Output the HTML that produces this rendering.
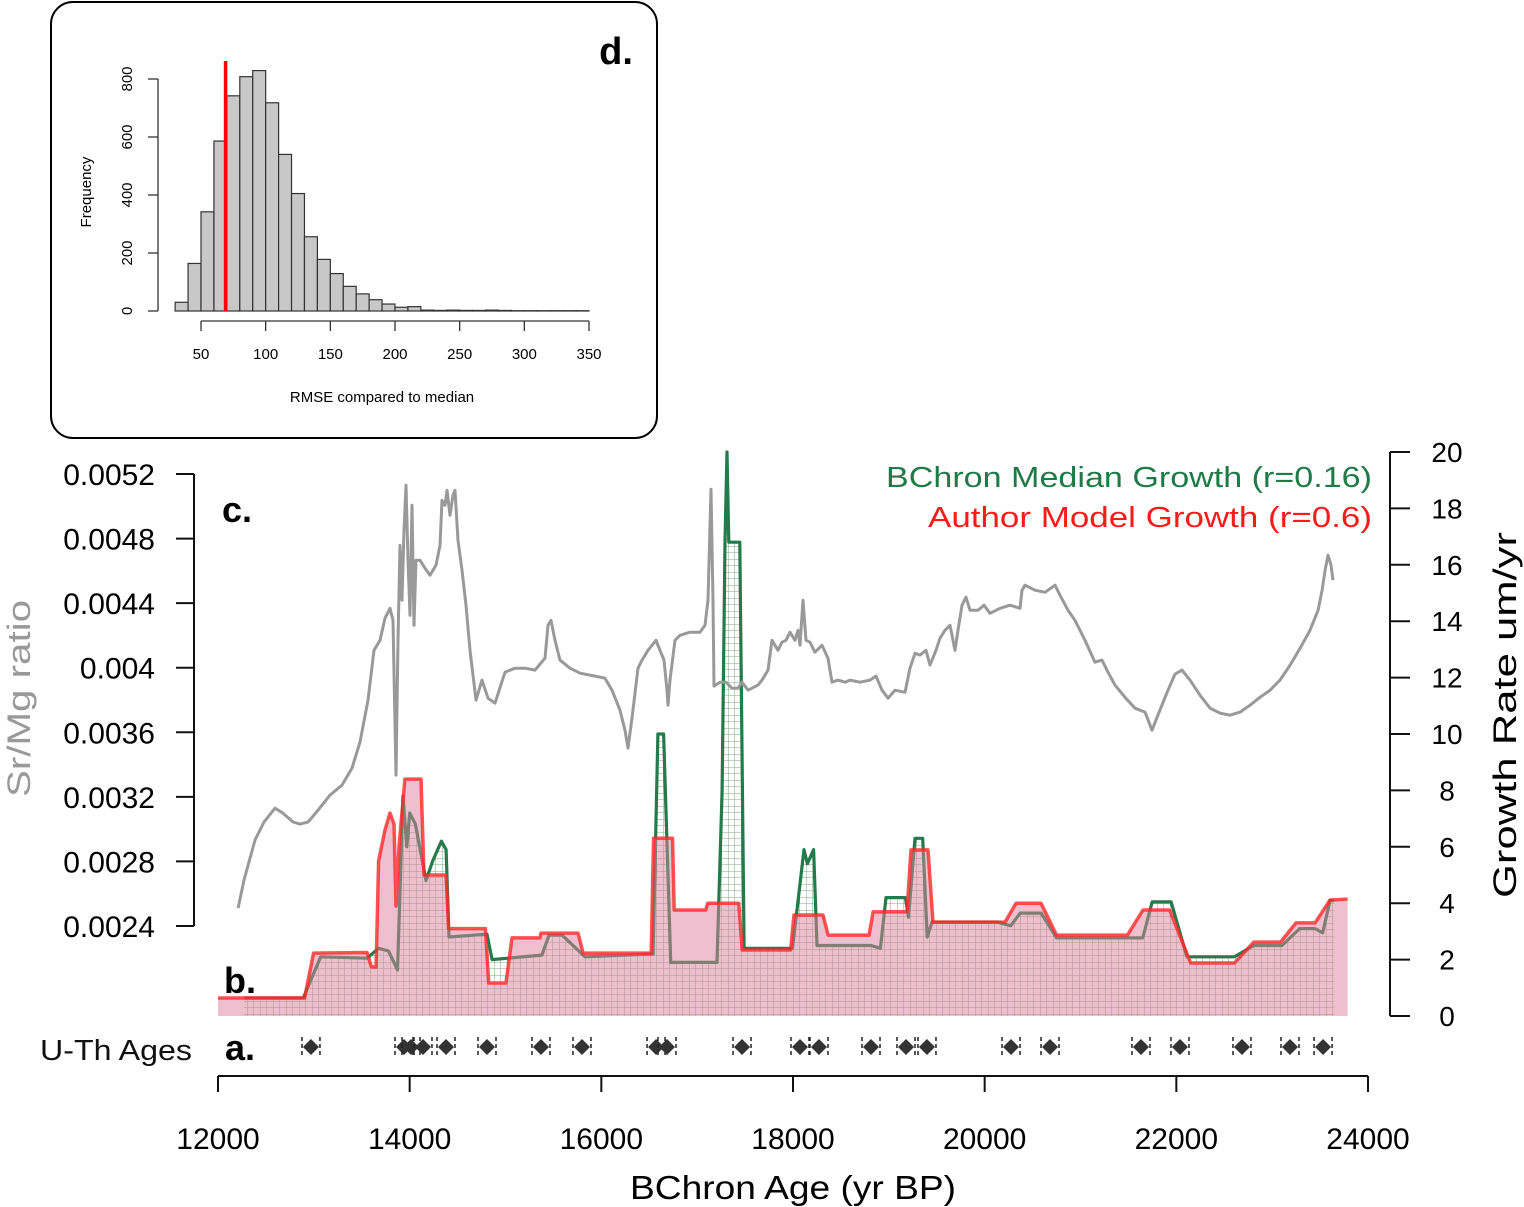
<!DOCTYPE html>
<html><head><meta charset="utf-8"><style>
html,body{margin:0;padding:0;background:#fff}
svg{display:block;font-family:"Liberation Sans",sans-serif}
</style></head><body>
<svg id="chart" width="1524" height="1207" viewBox="0 0 1524 1207">
<defs>
<pattern id="grid" width="6.5" height="6.5" patternUnits="userSpaceOnUse">
<path d="M0 0H6.5M0 0V6.5" stroke="#7fa87f" stroke-width="1" fill="none"/>
</pattern>
</defs>
<g id="inset">
<rect x="51" y="2" width="606" height="436" rx="22" fill="#fff" stroke="#000" stroke-width="2"/>
<text x="616" y="64" font-size="38" font-weight="bold" text-anchor="middle">d.</text>
<text x="382" y="402" font-size="15" text-anchor="middle">RMSE compared to median</text>
<text transform="translate(91,192) rotate(-90)" font-size="15" text-anchor="middle">Frequency</text>
</g>
<g id="main">
<text x="237" y="522" font-size="36" font-weight="bold" text-anchor="middle">c.</text>
<text x="240" y="993" font-size="36" font-weight="bold" text-anchor="middle">b.</text>
<text x="240" y="1060" font-size="36" font-weight="bold" text-anchor="middle">a.</text>
<text x="40" y="1060" font-size="29" textLength="152" lengthAdjust="spacingAndGlyphs" fill="#111">U-Th Ages</text>
<text x="886" y="487" font-size="29" textLength="486" lengthAdjust="spacingAndGlyphs" fill="#1e7b47">BChron Median Growth (r=0.16)</text>
<text x="928" y="527" font-size="29" textLength="444" lengthAdjust="spacingAndGlyphs" fill="#ff1a1a">Author Model Growth (r=0.6)</text>
<text transform="translate(30,797) rotate(-90)" font-size="32" textLength="197" lengthAdjust="spacingAndGlyphs" fill="#999">Sr/Mg ratio</text>
<text transform="translate(1516,898) rotate(-90)" font-size="32" textLength="366" lengthAdjust="spacingAndGlyphs" fill="#000">Growth Rate um/yr</text>
<text x="630" y="1199" font-size="33" textLength="326" lengthAdjust="spacingAndGlyphs">BChron Age (yr BP)</text>
</g>
</svg>
<script>
// histogram data
const histBinStarts=[30,40,50,60,70,80,90,100,110,120,130,140,150,160,170,180,190,200,210,220,230,240,250,260,270,280,290,300,310,320,330,340];
const histCounts=[30,164,342,586,742,808,829,718,540,405,256,178,129,85,59,39,24,13,15,3,2,3,2,2,3,2,1,1,1,1,1,1];
const histXTicks=[50,100,150,200,250,300,350];
const histYTicks=[0,200,400,600,800];
const histRefValue=69;
// main chart data
const xTicks=[12000,14000,16000,18000,20000,22000,24000];
const leftTicks=[0.0024,0.0028,0.0032,0.0036,0.004,0.0044,0.0048,0.0052];
const leftTickLabels=["0.0024","0.0028","0.0032","0.0036","0.004","0.0044","0.0048","0.0052"];
const rightTicks=[0,2,4,6,8,10,12,14,16,18,20];
const srmgAges=[12210,12271,12386,12480,12595,12678,12783,12856,12940,13044,13169,13294,13398,13482,13565,13628,13690,13743,13795,13826,13857,13878,13899,13920,13941,13962,13983,14003,14024,14045,14066,14108,14160,14212,14275,14317,14337,14369,14390,14421,14452,14473,14504,14546,14588,14630,14692,14755,14817,14890,14995,15099,15204,15308,15412,15444,15475,15517,15569,15673,15777,15934,16038,16111,16195,16247,16278,16320,16383,16424,16487,16529,16570,16612,16654,16685,16696,16717,16769,16821,16925,17030,17082,17113,17144,17165,17176,17238,17301,17363,17426,17468,17531,17572,17635,17677,17739,17781,17844,17885,17927,17969,18021,18052,18073,18104,18136,18177,18229,18303,18365,18407,18470,18543,18595,18699,18804,18866,18929,18991,19064,19169,19221,19273,19325,19388,19430,19492,19534,19586,19638,19690,19722,19764,19805,19847,19931,19993,20056,20160,20264,20369,20390,20421,20525,20630,20734,20786,20870,20943,21047,21151,21224,21287,21360,21464,21569,21673,21746,21829,21913,21986,22059,22143,22247,22352,22456,22560,22665,22769,22873,22978,23082,23187,23291,23395,23479,23521,23552,23583,23614,23635];
const srmgValues=[0.002511,0.002685,0.002932,0.003044,0.003130,0.003099,0.003044,0.003031,0.003044,0.003118,0.003211,0.003273,0.003378,0.003539,0.003799,0.004108,0.004170,0.004307,0.004368,0.004294,0.003335,0.004170,0.004758,0.004418,0.004851,0.005130,0.004666,0.004325,0.005006,0.004263,0.004666,0.004666,0.004616,0.004573,0.004635,0.004758,0.005037,0.005006,0.005099,0.004944,0.005068,0.005099,0.004789,0.004604,0.004387,0.004108,0.003799,0.003923,0.003811,0.003780,0.003972,0.003997,0.003997,0.003985,0.004059,0.004263,0.004294,0.004170,0.004047,0.003997,0.003966,0.003948,0.003935,0.003861,0.003737,0.003613,0.003502,0.003688,0.003997,0.004047,0.004108,0.004139,0.004170,0.004108,0.004047,0.003861,0.003768,0.003923,0.004170,0.004201,0.004220,0.004220,0.004263,0.004418,0.005105,0.004418,0.003886,0.003910,0.003910,0.003873,0.003873,0.003910,0.003861,0.003873,0.003892,0.003923,0.003985,0.004170,0.004108,0.004158,0.004170,0.004220,0.004170,0.004232,0.004139,0.004418,0.004170,0.004158,0.004096,0.004139,0.004059,0.003910,0.003923,0.003910,0.003923,0.003910,0.003923,0.003948,0.003861,0.003811,0.003861,0.003848,0.003997,0.004090,0.004078,0.004108,0.004016,0.004108,0.004183,0.004232,0.004263,0.004108,0.004232,0.004387,0.004437,0.004356,0.004356,0.004387,0.004337,0.004368,0.004387,0.004368,0.004480,0.004511,0.004480,0.004467,0.004511,0.004449,0.004356,0.004294,0.004170,0.004034,0.004047,0.003972,0.003892,0.003817,0.003749,0.003725,0.003613,0.003737,0.003861,0.003960,0.003985,0.003923,0.003830,0.003749,0.003719,0.003706,0.003725,0.003768,0.003817,0.003861,0.003923,0.004016,0.004121,0.004232,0.004356,0.004480,0.004604,0.004697,0.004635,0.004542];
const medianAges=[12270,12890,13072,13555,13676,13780,13873,13930,13970,14000,14060,14170,14240,14331,14380,14410,14807,14860,15380,15455,15590,15830,16540,16590,16650,16724,17207,17260,17290,17311,17330,17445,17490,17995,18115,18150,18215,18250,18815,18912,18970,19173,19205,19273,19353,19400,19450,20130,20272,20370,20590,20750,21650,21748,21945,22110,22607,22808,23103,23287,23448,23527,23604,23647];
const medianGrowth=[0.64,0.64,2.1,2.05,2.4,2.3,1.63,7.8,6.0,7.2,6.8,4.8,5.5,6.2,5.9,2.8,2.9,2.0,2.16,2.87,2.87,2.1,2.2,10.0,10.0,1.9,1.9,8.0,16.8,20.0,16.8,16.8,2.4,2.4,5.9,5.4,5.9,2.5,2.5,2.4,4.2,4.2,3.5,6.3,6.3,2.8,3.33,3.33,3.2,3.65,3.65,2.77,2.77,4.05,4.05,2.1,2.1,2.5,2.5,3.1,3.1,2.95,4.1,4.1];
const authorAges=[12000,12904,12998,13555,13600,13650,13676,13743,13795,13837,13857,13889,13950,14118,14150,14380,14406,14790,14825,15005,15068,15360,15370,15757,15810,16520,16545,16743,16760,17090,17110,17433,17470,17975,18010,18313,18366,18794,18836,19190,19231,19409,19461,20213,20327,20588,20750,21490,21652,21930,22150,22607,22808,23088,23249,23448,23604,23787];
const authorGrowth=[0.64,0.64,2.23,2.25,1.74,1.74,5.5,6.6,7.2,6.8,3.9,6.0,8.4,8.4,5.0,5.0,3.1,3.1,1.17,1.17,2.77,2.77,2.94,2.94,2.23,2.23,6.3,6.3,3.76,3.76,4.0,4.0,2.34,2.34,3.58,3.58,2.87,2.87,3.69,3.69,5.89,5.89,3.33,3.33,4.0,4.0,2.87,2.87,3.76,3.76,1.88,1.88,2.62,2.62,3.3,3.3,4.11,4.15];
const uthAges=[12970,13941,14014,14139,14379,14807,15370,15798,16571,16685,17468,18073,18271,18814,19179,19398,20275,20682,21631,22038,22685,23186,23531];

const NS="http://www.w3.org/2000/svg";
const svg=document.getElementById('chart');
const inset=document.getElementById('inset');
const main=document.getElementById('main');
function mk(tag,attrs,parent){const e=document.createElementNS(NS,tag);for(const k in attrs)e.setAttribute(k,attrs[k]);(parent||svg).appendChild(e);return e;}

const hx=v=>201+(v-50)*388/300;
const hy=c=>311-c*232/800;
histCounts.forEach((c,i)=>{
  const b=histBinStarts[i];
  const r=mk('rect',{x:hx(b),y:hy(c),width:hx(b+10)-hx(b),height:311-hy(c),fill:'#c8c8c8',stroke:'#333','stroke-width':1.2},inset);
  
  
});
const rl=mk('line',{x1:hx(histRefValue),x2:hx(histRefValue),y1:61,y2:311,stroke:'#ff0000','stroke-width':3.5},inset);


const hxa=mk('line',{x1:hx(50),x2:hx(350),y1:321,y2:321,stroke:'#333','stroke-width':1.3},inset);


histXTicks.forEach(t=>{
  mk('line',{x1:hx(t),x2:hx(t),y1:321,y2:331,stroke:'#333','stroke-width':1.3},inset);
  const tx=mk('text',{x:hx(t),y:359,'font-size':15,'text-anchor':'middle'},inset);tx.textContent=t;
  
  
});
const hya=mk('line',{x1:158,x2:158,y1:hy(0),y2:hy(800),stroke:'#333','stroke-width':1.3},inset);


histYTicks.forEach(t=>{
  mk('line',{x1:148,x2:158,y1:hy(t),y2:hy(t),stroke:'#333','stroke-width':1.3},inset);
  const tx=mk('text',{transform:`translate(132,${hy(t)}) rotate(-90)`,'font-size':15,'text-anchor':'middle'},inset);tx.textContent=t;
  
  
});

const X=a=>218+(a-12000)*1150/12000;
const YL=v=>926-(v-0.0024)/0.0028*452;
const YR=g=>1016-g*28.2;
function pts(xs,ys,fy){return xs.map((a,i)=>X(a).toFixed(1)+','+fy(ys[i]).toFixed(1)).join(' ');}
function area(xs,ys){return 'M'+X(xs[0])+','+YR(0)+' L'+pts(xs,ys,YR).split(' ').join(' L')+' L'+X(xs[xs.length-1])+','+YR(0)+'Z';}

const ga=mk('path',{d:area(medianAges,medianGrowth),fill:'url(#grid)'},main);


const gl=mk('polyline',{points:pts(medianAges,medianGrowth,YR),fill:'none',stroke:'#237a4a','stroke-width':3.2,'stroke-linejoin':'round'},main);


const ra=mk('path',{d:area(authorAges,authorGrowth),fill:'rgba(222,130,160,0.5)'},main);


const rline=mk('polyline',{points:pts(authorAges,authorGrowth,YR),fill:'none',stroke:'rgba(255,40,40,0.8)','stroke-width':3.5,'stroke-linejoin':'round'},main);


const sl=mk('polyline',{points:pts(srmgAges,srmgValues,YL),fill:'none',stroke:'#999','stroke-width':3,'stroke-linejoin':'round'},main);



uthAges.forEach(a=>{
  const x=X(a),y=1047;
  const g=mk('g',{},main);
  
  
  mk('line',{x1:x-9,x2:x-9,y1:1037,y2:1058,stroke:'#222','stroke-width':1.5,'stroke-dasharray':'4,3'},g);
  mk('line',{x1:x+9,x2:x+9,y1:1037,y2:1058,stroke:'#222','stroke-width':1.5,'stroke-dasharray':'4,3'},g);
  mk('polygon',{points:`${x},${y-8} ${x+8},${y} ${x},${y+8} ${x-8},${y}`,fill:'#333'},g);
});

const la=mk('line',{x1:194,x2:194,y1:YL(0.0052),y2:YL(0.0024),stroke:'#111','stroke-width':2},main);


leftTicks.forEach((t,i)=>{
  mk('line',{x1:176,x2:194,y1:YL(t),y2:YL(t),stroke:'#111','stroke-width':2},main);
  const tx=mk('text',{x:155,y:YL(t)+11,'font-size':30,'text-anchor':'end'},main);tx.textContent=leftTickLabels[i];
  
  
});
const rax=mk('line',{x1:1390,x2:1390,y1:YR(20),y2:YR(0),stroke:'#111','stroke-width':2},main);


rightTicks.forEach(t=>{
  mk('line',{x1:1390,x2:1410,y1:YR(t),y2:YR(t),stroke:'#111','stroke-width':2},main);
  const tx=mk('text',{x:1447,y:YR(t)+10,'font-size':28,'text-anchor':'middle'},main);tx.textContent=t;
  
  
});
const bx=mk('line',{x1:X(12000),x2:X(24000),y1:1076,y2:1076,stroke:'#111','stroke-width':2},main);


xTicks.forEach(t=>{
  mk('line',{x1:X(t),x2:X(t),y1:1076,y2:1092,stroke:'#111','stroke-width':2},main);
  const tx=mk('text',{x:X(t),y:1149,'font-size':30,'text-anchor':'middle'},main);tx.textContent=t;
  
  
});
</script>
</body></html>
